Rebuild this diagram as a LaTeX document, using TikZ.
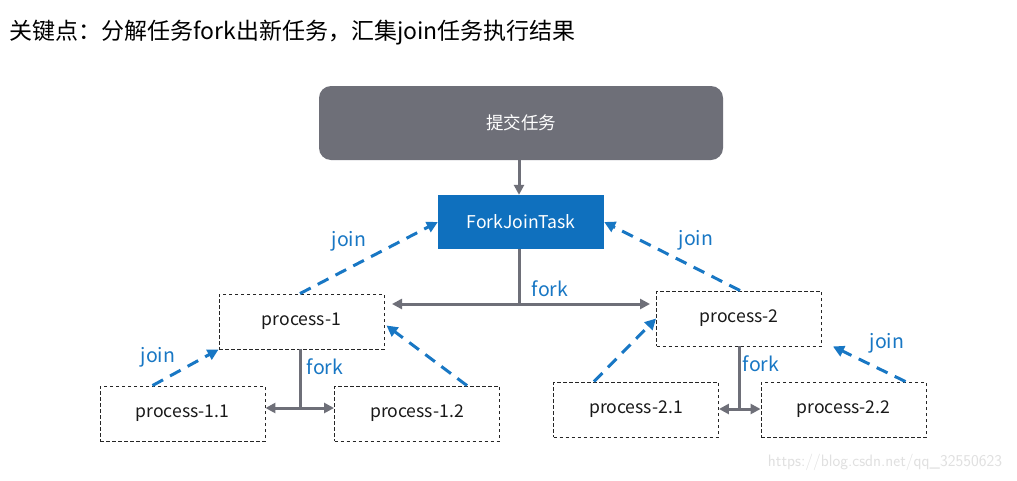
\documentclass[tikz,border=0pt]{standalone}
\usepackage{fontspec}
\setmainfont{Noto Sans CJK SC}
\usetikzlibrary{arrows.meta,calc}
\definecolor{boxgray}{HTML}{6E6F78}
\definecolor{fjblue}{HTML}{0F70BE}
\definecolor{joinblue}{HTML}{1877C4}
\begin{document}
\begin{tikzpicture}[x=1pt,y=-1pt,
  proc/.style={draw=black!85,dashed,dash pattern=on 3.5pt off 2.5pt,line width=0.9pt,minimum width=165pt,minimum height=55pt,inner sep=0pt,font=\fontsize{17.6}{19}\selectfont,text=black!90},
  forkline/.style={draw=boxgray,line width=3pt},
  forkarr/.style={forkline,{Triangle[length=10pt,width=10pt]}-{Triangle[length=10pt,width=10pt]}},
  joinarr/.style={draw=joinblue,line width=3pt,dash pattern=on 12pt off 8pt,-{Triangle[length=11pt,width=11pt]}},
  lbl/.style={text=joinblue,font=\fontsize{19.5}{21}\selectfont,inner sep=0pt}]
\useasboundingbox (0,0) rectangle (1017,480);
\fill[white] (0,0) rectangle (1017,480);
\node[anchor=west,inner sep=0pt,font=\fontsize{23}{26}\selectfont] (title) at (9,33) {关键点：分解任务fork出新任务，汇集join任务执行结果};
\node[fill=boxgray,rounded corners=12pt,minimum width=404pt,minimum height=74pt,inner sep=0pt,text=white,font=\fontsize{17.5}{19}\selectfont] (submit) at (521,123) {提交任务};
\node[fill=fjblue,minimum width=166pt,minimum height=54pt,inner sep=0pt,text=white,font=\fontsize{17.6}{19}\selectfont] (fjt) at (521,222) {ForkJoinTask};
\node[proc] (p1) at (301.5,321.5) {process-1};
\node[proc] (p2) at (739,318.5) {process-2};
\node[proc] (p11) at (182.5,413.5) {process-1.1};
\node[proc] (p12) at (417,413.5) {process-1.2};
\node[proc] (p21) at (636,409.5) {process-2.1};
\node[proc] (p22) at (843.5,409.5) {process-2.2};
% submit -> fjt
\draw[forkline,-{Triangle[length=10pt,width=10pt]}] (submit.south -| 519,0) -- (fjt.north -| 519,0);
% big fork
\coordinate (f0) at (519,304);
\coordinate (fl) at (392,304);
\coordinate (fr) at (650,304);
\draw[forkline] (fjt.south -| f0) -- (f0);
\draw[forkarr] (fl) -- (fr);
\node[lbl] (fk0) at (550,289) {fork};
% fork p1
\coordinate (g0) at (300,408);
\draw[forkline] (p1.south -| g0) -- (g0);
\draw[forkarr] (p11.east |- g0) -- (p12.west |- g0);
\node[lbl] (fk1) at (325,367) {fork};
% fork p2
\coordinate (g1) at (739,409);
\draw[forkline] (p2.south -| g1) -- (g1);
\draw[forkarr] (p21.east |- g1) -- (p22.west |- g1);
\node[lbl] (fk2) at (761,364) {fork};
% joins
\draw[joinarr] ([xshift=-1.5pt]p1.north) -- (fjt.west);
\node[lbl] (j0) at (349,241) {join};
\draw[joinarr] ([xshift=1pt]p2.north) -- (fjt.east);
\node[lbl] (j1) at (696,240) {join};
\draw[joinarr] ([xshift=-30pt]p11.north) -- (p1.south west);
\node[lbl] (j2) at (158,357) {join};
\draw[joinarr] ([xshift=50pt]p12.north) -- ([shift={(2,4)}]p1.east);
\draw[joinarr] ([xshift=-42pt]p21.north) -- (p2.west);
\draw[joinarr] ([xshift=62pt]p22.north) -- ([xshift=11pt]p2.south east);
\node[lbl] (j3) at (887,343) {join};
% watermark
\node[text=black!12,font=\fontsize{16.5}{18}\selectfont\sffamily,inner sep=0pt] (wm) at (885,462) {https://blog.csdn.net/qq\_32550623};
\end{tikzpicture}
\end{document}
